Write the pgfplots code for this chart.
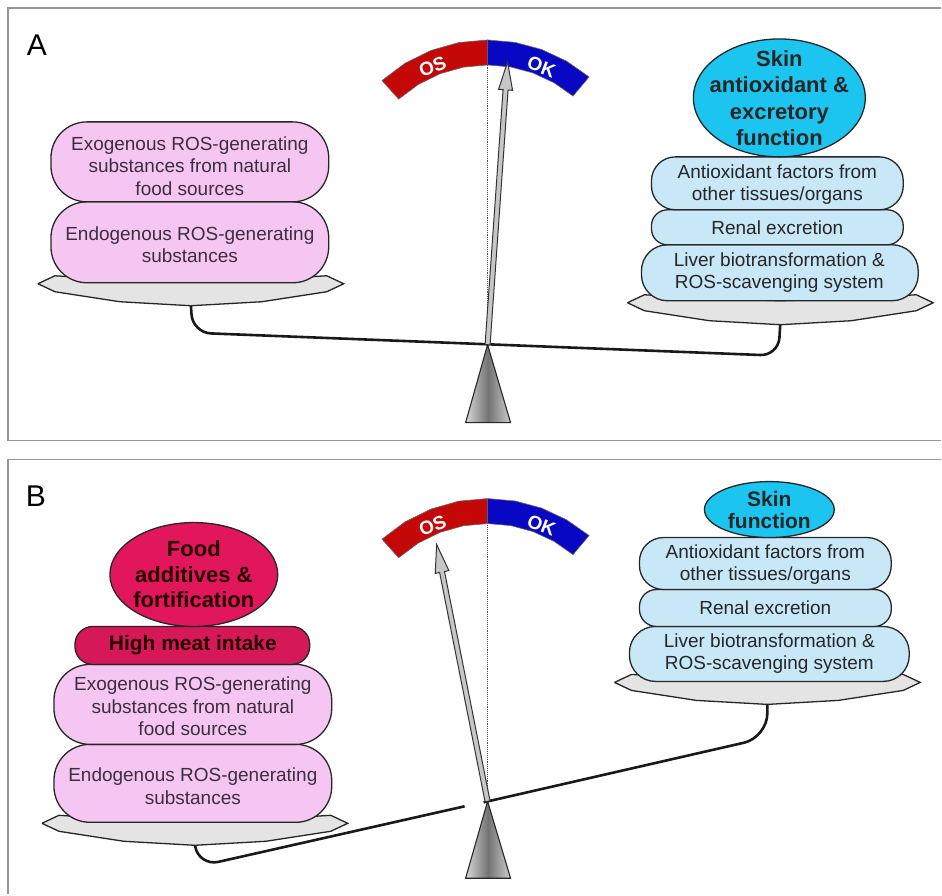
\documentclass[border=0pt]{standalone}
\usepackage{pgfplots}
\pgfplotsset{compat=1.18}
\usepackage{fontspec}
\setmainfont{Liberation Sans}
\definecolor{pinkbox}{RGB}{246,198,242}
\definecolor{bluebox}{RGB}{200,232,248}
\definecolor{skin}{RGB}{28,196,240}
\definecolor{food}{RGB}{226,22,92}
\definecolor{meat}{RGB}{214,24,88}
\definecolor{osred}{RGB}{196,8,8}
\definecolor{okblue}{RGB}{8,8,196}
\definecolor{plate}{RGB}{228,228,228}
\definecolor{framec}{RGB}{150,150,150}
\definecolor{txt}{RGB}{60,45,65}
\newcommand\rt{\fontsize{19}{22.5}\selectfont}
\begin{document}
\begin{tikzpicture}
\begin{axis}[width=942pt, height=895pt, scale only axis,
  xmin=0, xmax=942, ymin=0, ymax=895, y dir=reverse,
  hide axis, clip=false,
  box/.style={draw=black!85, line width=1.3pt, rounded corners=#1},
  platest/.style={fill=plate, draw=black!85, line width=1.3pt},
  beam/.style={draw=black!90, line width=2.6pt, rounded corners=#1},
  arrowst/.style={fill=black!22, draw=black!80, line width=1pt},
  tri/.style={draw=black!85, line width=1.1pt, left color=black!15, right color=black!20, middle color=black!55},
  gauge/.style={draw=black!60, line width=0.6pt},
  ell/.style={only marks, mark=*,
    nodes near coords, point meta=explicit symbolic,
    every node near coord/.style={anchor=center, align=center, text=black!85}}]
% canvas
\addplot[draw=none] coordinates {(0,0) (942,895)};
% frames
\addplot[framec, line width=1.6pt] coordinates {(942,8) (8,8) (8,441) (942,441)};
\addplot[framec, line width=1.6pt] coordinates {(942,460) (8,460) (8,895)};
\node[font=\fontsize{30}{30}\selectfont] at (axis cs:37,45) {A};
\node[font=\fontsize{30}{30}\selectfont] at (axis cs:36,497) {B};

%================ PANEL A =================
\addplot[black!70, densely dotted, line width=0.9pt] coordinates {(488,40) (488,345)};
% beam
\addplot[beam=18pt] coordinates {(191,305) (193,333) (779,356) (781,323)};
% plates
\addplot[platest] coordinates {(38,284) (55,276) (120,280) (191,282) (262,280) (327,276) (344,284) (327,292) (262,302) (191,306) (120,302) (55,292) (38,284)};
\addplot[platest] coordinates {(628,303) (645,295) (710,299) (781,301) (852,299) (917,295) (934,303) (917,311) (852,321) (781,325) (710,321) (645,311) (628,303)};
% left stack
\addplot[box=36pt, fill=pinkbox] coordinates {(190,283) (51,283) (51,202) (329,202) (329,283) (190,283)};
\addplot[box=36pt, fill=pinkbox] coordinates {(190,202) (51,202) (51,122) (329,122) (329,202) (190,202)};
\node[align=center, text=txt, font=\rt] at (axis cs:190,166) {Exogenous ROS-generating\\substances from natural\\food sources};
\node[align=center, text=txt, font=\rt] at (axis cs:190,245) {Endogenous ROS-generating\\substances};
% right stack
\addplot[box=26pt, fill=bluebox] coordinates {(780,301) (642,301) (642,245) (919,245) (919,301) (780,301)};
\addplot[box=16pt, fill=bluebox] coordinates {(778,245) (652,245) (652,210) (904,210) (904,245) (778,245)};
\addplot[box=24pt, fill=bluebox] coordinates {(778,210) (652,210) (652,157) (904,157) (904,210) (778,210)};
\node[align=center, text=black!85, font=\rt] at (axis cs:778,185) {Antioxidant factors from\\other tissues/organs};
\node[align=center, text=black!85, font=\rt] at (axis cs:778,228) {Renal excretion};
\node[align=center, text=black!85, font=\rt] at (axis cs:780,273) {Liver biotransformation \&\\ROS-scavenging system};
\addplot[ell, mark size=59pt, mark options={xscale=1.458, fill=skin, draw=black!85, line width=1.3pt},
  every node near coord/.append style={font=\fontsize{22}{26.5}\selectfont\bfseries}]
  coordinates {(780,98) [{Skin\\antioxidant \&\\excretory\\function}]};
% gauge
\addplot[gauge, fill=osred] coordinates {(488,40) (459.2,42.6) (431.4,50.5) (405.4,63.3) (382.3,80.6) (399,99.2) (418.5,84.6) (440.3,73.8) (463.8,67.2) (488,65) (488,40)};
\addplot[gauge, fill=okblue] coordinates {(488,40) (515.4,42.4) (542,49.5) (567,61.2) (589.6,77) (573.5,96.1) (554.5,82.8) (533.5,73) (511.1,67) (488,65) (488,40)};
\node[text=white, font=\fontsize{19}{19}\selectfont\bfseries, rotate=21, inner sep=0pt] at (axis cs:433,67) {OS};
\node[text=white, font=\fontsize{19}{19}\selectfont\bfseries, rotate=-21, inner sep=0pt] at (axis cs:542,67) {OK};
% arrow
\addplot[arrowst] coordinates {(490.5,345.2) (508.5,90.1) (513.0,90.4) (508,62) (499.0,89.4) (503.5,89.7) (485.5,344.8) (490.5,345.2)};
% pivot
\addplot[tri] coordinates {(488,345) (511,423) (466,423) (488,345)};

%================ PANEL B =================
\addplot[black!70, densely dotted, line width=0.9pt] coordinates {(488,499) (488,802)};
% beam (with a small break left of the pivot)
\addplot[beam=20pt] coordinates {(195,845) (199,867) (465,807)};
\addplot[beam=24pt] coordinates {(484,803) (768,738) (768,704)};
% plates
\addplot[platest] coordinates {(42,824) (59,816) (124,820) (195,822) (266,820) (331,816) (348,824) (331,832) (266,842) (195,846) (124,842) (59,832) (42,824)};
\addplot[platest] coordinates {(615,683) (632,675) (697,679) (768,681) (839,679) (904,675) (921,683) (904,691) (839,701) (768,705) (697,701) (632,691) (615,683)};
% left stack
\addplot[box=36pt, fill=pinkbox] coordinates {(193,823) (54,823) (54,745) (332,745) (332,823) (193,823)};
\addplot[box=36pt, fill=pinkbox] coordinates {(193,745) (54,745) (54,665) (332,665) (332,745) (193,745)};
\addplot[box=18pt, fill=meat] coordinates {(193,665) (75,665) (75,627) (310,627) (310,665) (193,665)};
\node[align=center, text=txt, font=\rt] at (axis cs:193,707) {Exogenous ROS-generating\\substances from natural\\food sources};
\node[align=center, text=txt, font=\rt] at (axis cs:193,787) {Endogenous ROS-generating\\substances};
\node[align=center, text=black!85!red, font=\fontsize{21}{21}\selectfont\bfseries] at (axis cs:193,646) {High meat intake};
\addplot[ell, mark size=52pt, mark options={xscale=1.615, fill=food, draw=black!85, line width=1.3pt},
  every node near coord/.append style={font=\fontsize{22}{25.5}\selectfont\bfseries, text=black!85!red}]
  coordinates {(194,575) [{Food\\additives \&\\fortification}]};
% right stack
\addplot[box=26pt, fill=bluebox] coordinates {(770,682) (630,682) (630,627) (910,627) (910,682) (770,682)};
\addplot[box=17pt, fill=bluebox] coordinates {(766,627) (640,627) (640,590) (892,590) (892,627) (766,627)};
\addplot[box=24pt, fill=bluebox] coordinates {(766,590) (640,590) (640,538) (892,538) (892,590) (766,590)};
\node[align=center, text=black!85, font=\rt] at (axis cs:766,565) {Antioxidant factors from\\other tissues/organs};
\node[align=center, text=black!85, font=\rt] at (axis cs:766,608) {Renal excretion};
\node[align=center, text=black!85, font=\rt] at (axis cs:770,654) {Liver biotransformation \&\\ROS-scavenging system};
\addplot[ell, mark size=28pt, mark options={xscale=2.32, fill=skin, draw=black!85, line width=1.3pt},
  every node near coord/.append style={font=\fontsize{21}{22}\selectfont\bfseries}]
  coordinates {(770,510) [{Skin\\function}]};
% gauge
\addplot[gauge, fill=osred] coordinates {(488,499) (459.2,501.6) (431.4,509.5) (405.4,522.3) (382.3,539.6) (399,558.2) (418.5,543.6) (440.3,532.8) (463.8,526.2) (488,524) (488,499)};
\addplot[gauge, fill=okblue] coordinates {(488,499) (515.4,501.4) (542,508.5) (567,520.2) (589.6,536) (573.5,555.1) (554.5,541.8) (533.5,532) (511.1,526) (488,524) (488,499)};
\node[text=white, font=\fontsize{19}{19}\selectfont\bfseries, rotate=21, inner sep=0pt] at (axis cs:433,526) {OS};
\node[text=white, font=\fontsize{19}{19}\selectfont\bfseries, rotate=-21, inner sep=0pt] at (axis cs:542,526) {OK};
% arrow
\addplot[arrowst] coordinates {(490.45,801.5) (444.9,572.0) (449.3,571.1) (437,545) (435.6,573.9) (440.0,573.0) (485.5,802.5) (490.45,801.5)};
% pivot
\addplot[tri] coordinates {(488,802) (511,879) (466,879) (488,802)};
\end{axis}
\end{tikzpicture}
\end{document}
